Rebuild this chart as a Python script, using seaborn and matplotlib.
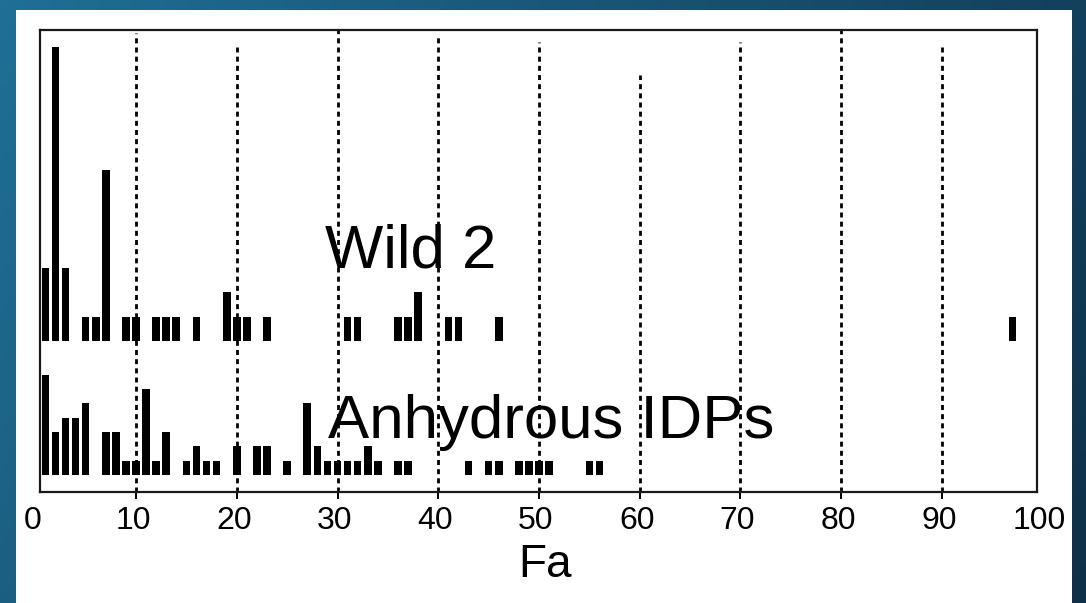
import numpy as np
import pandas as pd
import seaborn as sns
import matplotlib.pyplot as plt
from matplotlib.colors import LinearSegmentedColormap
from matplotlib.patches import Rectangle
from matplotlib.transforms import blended_transform_factory

# Olivine Fa content histograms (counts per 1 mol% bin)
wild2_fa = [1, 2, 3, 5, 6, 7, 9, 10, 12, 13, 14, 16, 19, 20, 21, 23,
            31, 32, 36, 37, 38, 41, 42, 46, 97]
wild2_n = [3, 12, 3, 1, 1, 7, 1, 1, 1, 1, 1, 1, 2, 1, 1, 1,
           1, 1, 1, 1, 2, 1, 1, 1, 1]

idp_fa = [1, 2, 3, 4, 5, 7, 8, 9, 10, 11, 12, 13, 15, 16, 17, 18, 20, 22, 23,
          25, 27, 28, 29, 30, 31, 32, 33, 34, 36, 37, 43, 45, 46, 48, 49, 50,
          51, 55, 56]
idp_n = [7, 3, 4, 4, 5, 3, 3, 1, 1, 6, 1, 3, 1, 2, 1, 1, 2, 2, 2,
         1, 5, 2, 1, 1, 1, 1, 2, 1, 1, 1, 1, 1, 1, 1, 1, 1,
         1, 1, 1]

grid_fa = [10, 20, 30, 40, 50, 60, 70, 80, 90]
tick_fa = [0, 10, 20, 30, 40, 50, 60, 70, 80, 90, 100]
series_labels = ["Wild 2", "Anhydrous IDPs"]
x_label = "Fa"

wild = pd.DataFrame({"Fa": wild2_fa, "n": wild2_n})
idps = pd.DataFrame({"Fa": idp_fa, "n": idp_n})

sns.set_theme(style="white")
plt.rcParams["font.family"] = ["Liberation Sans", "DejaVu Sans"]

W, H = 1086, 603
fig = plt.figure(figsize=(W / 100, H / 100), dpi=100)

# slide background: blue gradient with a white panel
bg = fig.add_axes([0, 0, 1, 1], zorder=-10)
gx = np.linspace(0, 1, 256)[None, :]
gy = np.linspace(0, 1, 64)[:, None]
grad = np.clip(0.75 * gx + 0.25 * gy, 0, 1)
cmap = LinearSegmentedColormap.from_list("slide", ["#1f6f96", "#17506f", "#0f3049"])
bg.imshow(grad, cmap=cmap, aspect="auto", extent=[0, 1, 0, 1], origin="upper")
bg.set_xlim(0, 1)
bg.set_ylim(0, 1)
bg.axis("off")
bg.add_patch(Rectangle((16 / W, 0), (1072 - 16) / W, (H - 10) / H,
                       facecolor="white", edgecolor="none"))

# plot frame
left, right, top, bottom = 40, 1037, 30, 492
ax = fig.add_axes([left / W, (H - bottom) / H, (right - left) / W, (bottom - top) / H])
ax.set_facecolor("white")
ax_w = ax.twinx()

sns.barplot(data=idps, x="Fa", y="n", native_scale=True, color="black",
            width=0.76, saturation=1, errorbar=None, linewidth=0, ax=ax)
sns.barplot(data=wild, x="Fa", y="n", native_scale=True, color="black",
            width=0.76, saturation=1, errorbar=None, linewidth=0, ax=ax_w)

ax.set_ylim(-1.19, 31.1)
ax_w.set_ylim(-6.16, 12.7)
ax.set_xlim(0.47, 99.43)

# dashed reference lines
line_tops = [33, 47, 26, 35, 42, 75, 42, 30, 45]
for v, t in zip(grid_fa, line_tops):
    ax.axvline(v, ymin=0, ymax=(bottom - t) / (bottom - top), color="black",
               lw=2.0, linestyle=(0, (1.8, 1.5)), zorder=0.5, clip_on=False)

for a in (ax, ax_w):
    a.set_xlabel("")
    a.set_ylabel("")
    a.set_yticks([])
    a.grid(False)
ax_w.tick_params(right=False, left=False, labelright=False)
for s in ax_w.spines.values():
    s.set_visible(False)
for s in ax.spines.values():
    s.set_color("#1a1a1a")
    s.set_linewidth(1.6)

ax.set_xticks(grid_fa)
ax.tick_params(axis="x", direction="out", length=5, width=1.4, color="black",
               labelbottom=False, bottom=True)

tr = blended_transform_factory(ax.transData, ax.transAxes)
for v in tick_fa:
    ax.text(v - 0.3, -0.063, str(v), transform=tr, ha="center", va="center",
            fontsize=23, color="black", clip_on=False)
ax.text(50.6, -0.158, x_label, transform=tr, ha="center", va="center",
        fontsize=33, color="black", clip_on=False)

ax.text(28.8, 0.485, series_labels[0], transform=tr, ha="left", va="baseline",
        fontsize=44.5, color="black")
ax.text(29.1, 0.117, series_labels[1], transform=tr, ha="left", va="baseline",
        fontsize=44.5, color="black")

fig.savefig("out.png", dpi=100)
